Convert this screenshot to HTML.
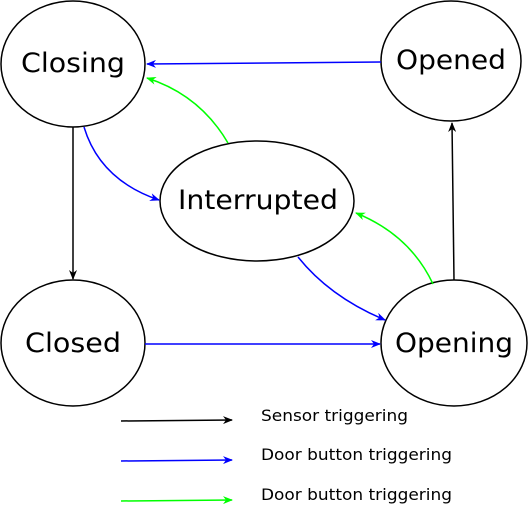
<!DOCTYPE html>
<html><head><style>
html,body{margin:0;padding:0;background:#fff;}
svg{display:block;}
text{font-family:"DejaVu Sans","Liberation Sans",sans-serif;}
</style></head><body>
<svg width="529" height="507" viewBox="0 0 529 507" xmlns="http://www.w3.org/2000/svg">
<defs>
<marker id="ak" markerWidth="10" markerHeight="8" refX="9" refY="4" orient="auto" markerUnits="userSpaceOnUse"><path d="M0,0 L10,4 L0,8 L3,4 Z" fill="#000"/></marker>
<marker id="ab" markerWidth="10" markerHeight="8" refX="9" refY="4" orient="auto" markerUnits="userSpaceOnUse"><path d="M0,0 L10,4 L0,8 L3,4 Z" fill="#00f"/></marker>
<marker id="ag" markerWidth="10" markerHeight="8" refX="9" refY="4" orient="auto" markerUnits="userSpaceOnUse"><path d="M0,0 L10,4 L0,8 L3,4 Z" fill="#0f0"/></marker>
</defs>
<g fill="#fff" stroke="#000" stroke-width="1.5">
<ellipse cx="73" cy="64" rx="72" ry="63"/>
<ellipse cx="451" cy="61" rx="70" ry="60"/>
<ellipse cx="257" cy="201" rx="97" ry="60"/>
<ellipse cx="73" cy="343" rx="72" ry="63"/>
<ellipse cx="454" cy="343" rx="73" ry="63"/>
</g>
<g font-size="27" text-anchor="middle" fill="#000">
<text x="73" y="72" textLength="104" lengthAdjust="spacingAndGlyphs">Closing</text>
<text x="451" y="69" textLength="110" lengthAdjust="spacingAndGlyphs">Opened</text>
<text x="258" y="209" textLength="160" lengthAdjust="spacingAndGlyphs">Interrupted</text>
<text x="73" y="352" textLength="96" lengthAdjust="spacingAndGlyphs">Closed</text>
<text x="454" y="352" textLength="118" lengthAdjust="spacingAndGlyphs">Opening</text>
</g>
<g fill="none" stroke-width="1.5">
<line x1="73" y1="127" x2="73" y2="279" stroke="#000" marker-end="url(#ak)"/>
<line x1="454" y1="280" x2="452" y2="123" stroke="#000" marker-end="url(#ak)"/>
<line x1="381" y1="62" x2="147" y2="64" stroke="#00f" marker-end="url(#ab)"/>
<line x1="145" y1="344" x2="380" y2="344" stroke="#00f" marker-end="url(#ab)"/>
<path d="M84,127 Q100,180 159,200" stroke="#00f" marker-end="url(#ab)"/>
<path d="M298,257 Q330,297 385,320" stroke="#00f" marker-end="url(#ab)"/>
<path d="M228,143 Q200,95 147,78" stroke="#0f0" marker-end="url(#ag)"/>
<path d="M433,284 Q410,235 356,213" stroke="#0f0" marker-end="url(#ag)"/>
<line x1="121" y1="421" x2="232" y2="420" stroke="#000" marker-end="url(#ak)"/>
<line x1="121" y1="461" x2="232" y2="460" stroke="#00f" marker-end="url(#ab)"/>
<line x1="121" y1="501" x2="232" y2="500" stroke="#0f0" marker-end="url(#ag)"/>
</g>
<g font-size="16" fill="#000">
<text x="261" y="421" textLength="147" lengthAdjust="spacingAndGlyphs">Sensor triggering</text>
<text x="261" y="460" textLength="191" lengthAdjust="spacingAndGlyphs">Door button triggering</text>
<text x="261" y="500" textLength="191" lengthAdjust="spacingAndGlyphs">Door button triggering</text>
</g>
</svg>
</body></html>
